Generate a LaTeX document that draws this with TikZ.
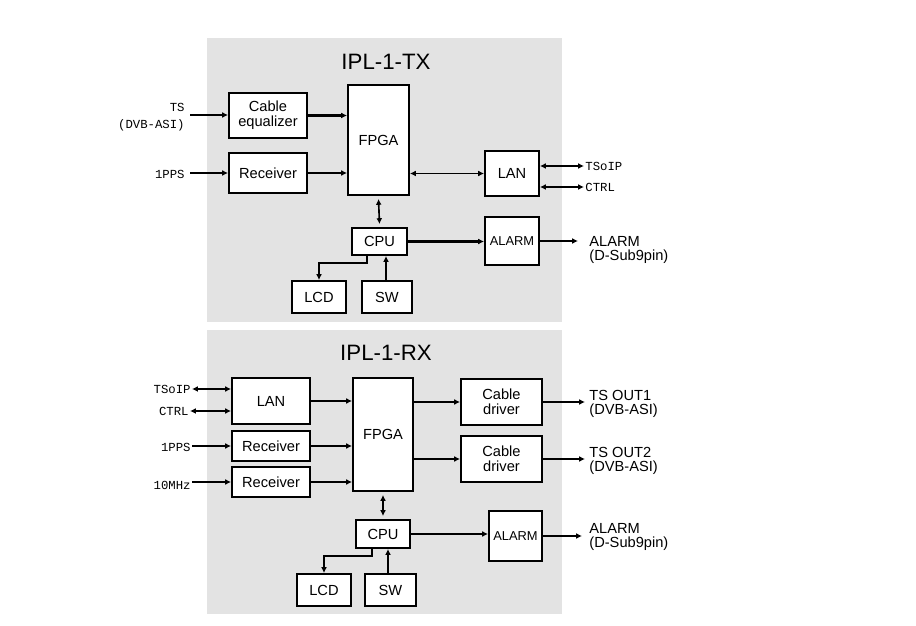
\documentclass[tikz,border=0pt]{standalone}
\usepackage{fontspec}
\setmainfont{Liberation Sans}
\newfontfamily\lblfont{Liberation Mono}
\usetikzlibrary{arrows.meta,positioning,calc}

\begin{document}
\begin{tikzpicture}[
    x=0.03cm, y=-0.03cm,
    box/.style={rectangle, draw, line width=1.6pt, fill=white, align=center, inner sep=0pt, font=\fontsize{12.5}{13}\selectfont},
    panel/.style={fill=black!11, draw=none},
    title/.style={font=\fontsize{19}{20}\selectfont},
    io/.style={font=\lblfont\fontsize{10.5}{15}\selectfont, inner sep=1pt},
    outlbl/.style={font=\fontsize{12.5}{11.5}\selectfont, align=left, inner sep=1pt, anchor=west},
    arrow/.style={-{Latex[length=5pt,width=5pt]}, line width=1.8pt},
    biarrow/.style={{Latex[length=5pt,width=5pt]}-{Latex[length=5pt,width=5pt]}, line width=1.6pt}
]
    \useasboundingbox (0,0) rectangle (916,626);

    % Panels
    \fill[panel] (207,38) rectangle (562,322);
    \fill[panel] (207,330) rectangle (562,614);
    \node[title] (txtitle) at (386,62) {IPL-1-TX};
    \node[title] (rxtitle) at (386,353) {IPL-1-RX};

    % ---------- TX ----------
    \node[box, minimum width=2.34cm, minimum height=1.35cm] (eq) at (268,115.5) {Cable\\equalizer};
    \node[box, minimum width=2.34cm, minimum height=1.2cm] (txrec) at (268,173) {Receiver};
    \node[box, minimum width=1.83cm, minimum height=3.3cm] (txfpga) at (378.5,140) {FPGA};
    \node[box, minimum width=1.62cm, minimum height=1.35cm] (txlan) at (512,173.5) {LAN};
    \node[box, minimum width=1.65cm, minimum height=0.81cm] (txcpu) at (379.5,241.5) {CPU};
    \node[box, minimum width=1.62cm, minimum height=1.44cm, font=\fontsize{11}{12}\selectfont] (txalarm) at (512,241) {ALARM};
    \node[box, minimum width=1.62cm, minimum height=0.96cm] (txlcd) at (319,297) {LCD};
    \node[box, minimum width=1.5cm, minimum height=0.96cm] (txsw) at (387,297) {SW};

    \node[io, anchor=east, align=right] (tsin) at (186,117) {TS\\(DVB-ASI)};
    \node[io, anchor=east] (ppsin) at (186,174) {1PPS};
    \node[io, anchor=west] (txtsoip) at (584,166) {TSoIP};
    \node[io, anchor=west] (txctrl) at (584,187) {CTRL};
    \node[outlbl] (txalout) at (588,250) {ALARM\\(D-Sub9pin)};

    \coordinate (tsa) at (190,115);
    \coordinate (ppsa) at (190,173);
    \coordinate (txlcdk) at (367,263);
    \coordinate (txswup) at (386,256);

    \draw[arrow] (tsa) -- (tsa -| eq.west);
    \draw[arrow] (ppsa) -- (ppsa -| txrec.west);
    \draw[arrow] (eq.east) -- (eq.east -| txfpga.west);
    \draw[arrow] (txrec.east) -- (txrec.east -| txfpga.west);
    \draw[biarrow] (txfpga.east |- txlan.west) -- (txlan.west);
    \draw[biarrow] (txlan.east |- txtsoip) -- (txtsoip.west);
    \draw[biarrow] (txlan.east |- txctrl) -- (txctrl.west);
    \draw[biarrow, line width=1.4pt] ($(txfpga.south)+(0,3)$) -- ($(txcpu.north)+(0,-3)$);
    \draw[arrow] (txcpu.east) -- (txcpu.east -| txalarm.west);
    \draw[arrow] (txalarm.east) -- (578,241);
    \draw[arrow] (txcpu.south -| txlcdk) -- (txlcdk) -| (txlcd.north);
    \draw[arrow] (txswup |- txsw.north) -- (txswup);

    % ---------- RX ----------
    \node[box, minimum width=2.34cm, minimum height=1.38cm] (rxlan) at (271,401) {LAN};
    \node[box, minimum width=2.34cm, minimum height=0.9cm] (rxrec1) at (271,446) {Receiver};
    \node[box, minimum width=2.34cm, minimum height=0.9cm] (rxrec2) at (271,482) {Receiver};
    \node[box, minimum width=1.8cm, minimum height=3.39cm] (rxfpga) at (383,434.5) {FPGA};
    \node[box, minimum width=2.43cm, minimum height=1.38cm] (cd1) at (501.5,402) {Cable\\driver};
    \node[box, minimum width=2.43cm, minimum height=1.38cm] (cd2) at (501.5,459) {Cable\\driver};
    \node[box, minimum width=1.62cm, minimum height=0.84cm] (rxcpu) at (383,534) {CPU};
    \node[box, minimum width=1.59cm, minimum height=1.5cm, font=\fontsize{11}{12}\selectfont] (rxalarm) at (515.5,536) {ALARM};
    \node[box, minimum width=1.62cm, minimum height=0.96cm] (rxlcd) at (324,590) {LCD};
    \node[box, minimum width=1.53cm, minimum height=0.96cm] (rxsw) at (390.5,590) {SW};

    \node[io, anchor=east] (rxtsoip) at (192,389) {TSoIP};
    \node[io, anchor=east] (rxctrl) at (190,411) {CTRL};
    \node[io, anchor=east] (rxpps) at (192,447) {1PPS};
    \node[io, anchor=east] (mhz) at (192,485) {10MHz};
    \node[outlbl] (ts1) at (588,404) {TS OUT1\\(DVB-ASI)};
    \node[outlbl] (ts2) at (588,461) {TS OUT2\\(DVB-ASI)};
    \node[outlbl] (rxalout) at (588,537) {ALARM\\(D-Sub9pin)};

    \coordinate (rxlcdk) at (372,556);
    \coordinate (rxswup) at (388,549);

    \draw[biarrow] (rxtsoip.east) -- (rxtsoip.east -| rxlan.west);
    \draw[biarrow] (rxctrl.east) -- (rxctrl.east -| rxlan.west);
    \draw[arrow] (rxpps.east |- rxrec1) -- (rxrec1.west);
    \draw[arrow] (mhz.east |- rxrec2) -- (rxrec2.west);
    \draw[arrow] (rxlan.east) -- (rxlan.east -| rxfpga.west);
    \draw[arrow] (rxrec1.east) -- (rxrec1.east -| rxfpga.west);
    \draw[arrow] (rxrec2.east) -- (rxrec2.east -| rxfpga.west);
    \draw[arrow] (rxfpga.east |- cd1) -- (cd1.west);
    \draw[arrow] (rxfpga.east |- cd2) -- (cd2.west);
    \draw[arrow] (cd1.east) -- (585,402);
    \draw[arrow] (cd2.east) -- (585,459);
    \draw[biarrow, line width=1.4pt] ($(rxfpga.south)+(0,3)$) -- ($(rxcpu.north)+(0,-3)$);
    \draw[arrow] (rxcpu.east) -- (rxcpu.east -| rxalarm.west);
    \draw[arrow] (rxalarm.east) -- (582,536);
    \draw[arrow] (rxcpu.south -| rxlcdk) -- (rxlcdk) -| (rxlcd.north);
    \draw[arrow] (rxswup |- rxsw.north) -- (rxswup);
\end{tikzpicture}
\end{document}
